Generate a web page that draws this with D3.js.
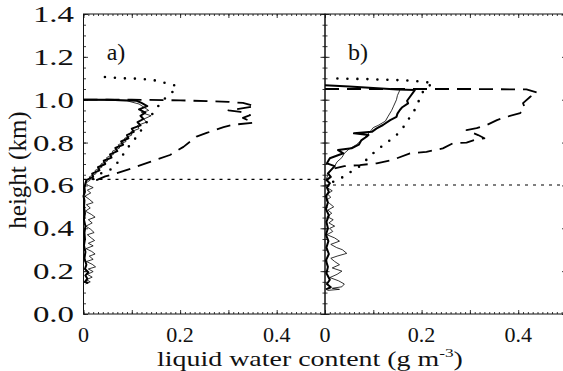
<!DOCTYPE html>
<html>
<head>
<meta charset="utf-8">
<script src="https://cdn.jsdelivr.net/npm/d3@7"></script>
<style>
  body { margin: 0; background: #fff; }
  svg { display: block; }
  text { font-family: "Liberation Serif", "Times New Roman", serif; fill: #111; }
</style>
</head>
<body>
<svg id="chart"></svg>
<script>
// tick values and labels
var yLabelTicks = [0, 0.2, 0.4, 0.6, 0.8, 1.0, 1.2, 1.4];
var yLabels = ['0.0', '0.2', '0.4', '0.6', '0.8', '1.0', '1.2', '1.4'];
var xLabelTicks = [0, 0.2, 0.4];
var xLabels = ['0', '0.2', '0.4'];
var panelNames = ['a)', 'b)'];

// panel a profiles: [lwc, height]
var aDotted = [[0.02,0.63],[0.03,0.65],[0.04,0.66],[0.062,0.68],[0.079,0.734],[0.096,0.789],[0.110,0.827],[0.127,0.882],[0.141,0.929],[0.158,0.98],[0.172,1.014],[0.183,1.033],[0.193,1.064],[0.172,1.077],[0.144,1.092],[0.117,1.098],[0.082,1.10],[0.048,1.105],[0.026,1.11]];
var aDashed = [[0.0,1.0],[0.1,1.0],[0.2,0.997],[0.3,0.99],[0.33,0.985],[0.355,0.97],[0.30,0.95],[0.325,0.943],[0.345,0.928],[0.33,0.915],[0.352,0.893],[0.31,0.883],[0.29,0.872],[0.255,0.845],[0.234,0.828],[0.207,0.78],[0.179,0.742],[0.138,0.71],[0.10,0.68],[0.069,0.657],[0.045,0.642],[0.027,0.625],[0.012,0.615]];
var aThick = [[0,1.0],[0.05,1.0],[0.11,0.995],[0.12,0.985],[0.132,0.97],[0.115,0.955],[0.128,0.94],[0.118,0.925],[0.124,0.91],[0.112,0.895],[0.118,0.88],[0.10,0.865],[0.104,0.85],[0.09,0.835],[0.093,0.82],[0.078,0.805],[0.082,0.79],[0.066,0.775],[0.07,0.76],[0.055,0.745],[0.058,0.73],[0.042,0.715],[0.045,0.70],[0.03,0.685],[0.033,0.67],[0.018,0.655],[0.02,0.64],[0.006,0.625],[0.004,0.61],[0.002,0.59],[0.003,0.57],[0.0,0.55],[0.002,0.53],[0.001,0.50],[0.003,0.47],[0.001,0.44],[0.004,0.41],[0.002,0.38],[0.003,0.35],[0.001,0.32],[0.004,0.29],[0.002,0.26],[0.006,0.23],[0.003,0.21],[0.01,0.195],[0.004,0.18],[0.008,0.165],[0.003,0.15],[0.01,0.145]];
var aThin = [[0.0,1.0],[0.09,0.995],[0.115,0.98],[0.125,0.965],[0.135,0.95],[0.12,0.94],[0.14,0.925],[0.125,0.91],[0.13,0.895],[0.112,0.88],[0.115,0.865],[0.098,0.85],[0.1,0.835],[0.085,0.82],[0.088,0.805],[0.072,0.79],[0.075,0.775],[0.06,0.76],[0.062,0.745],[0.048,0.73],[0.05,0.715],[0.036,0.70],[0.038,0.685],[0.024,0.67],[0.026,0.655],[0.012,0.64],[0.014,0.625],[0.004,0.61],[0.01,0.6],[0.02,0.59],[0.008,0.578],[0.015,0.565],[0.003,0.55],[0.012,0.535],[0.02,0.52],[0.006,0.51],[0.014,0.495],[0.004,0.48],[0.016,0.465],[0.024,0.452],[0.01,0.44],[0.018,0.425],[0.005,0.41],[0.015,0.395],[0.022,0.38],[0.008,0.37],[0.016,0.355],[0.023,0.343],[0.01,0.33],[0.02,0.318],[0.005,0.305],[0.017,0.292],[0.024,0.28],[0.012,0.27],[0.02,0.255],[0.006,0.245],[0.018,0.232],[0.025,0.22],[0.01,0.21],[0.02,0.198],[0.008,0.185],[0.018,0.172],[0.006,0.16],[0.014,0.15],[0.004,0.14]];
var aBase = 0.628;

// panel b profiles
var bDotted = [[0.017,0.617],[0.038,0.64],[0.059,0.672],[0.076,0.695],[0.089,0.728],[0.107,0.765],[0.135,0.812],[0.148,0.835],[0.166,0.882],[0.176,0.92],[0.19,0.967],[0.197,1.014],[0.207,1.053],[0.224,1.077],[0.203,1.084],[0.17,1.09],[0.13,1.093],[0.09,1.096],[0.05,1.098],[0.01,1.10]];
var bDashed = [[0.0,1.05],[0.1,1.05],[0.2,1.05],[0.3,1.05],[0.417,1.048],[0.44,1.033],[0.425,1.014],[0.41,0.984],[0.414,0.96],[0.404,0.937],[0.376,0.92],[0.356,0.905],[0.335,0.882],[0.314,0.867],[0.293,0.858],[0.317,0.835],[0.33,0.82],[0.31,0.812],[0.293,0.80],[0.265,0.797],[0.244,0.773],[0.21,0.757],[0.176,0.75],[0.141,0.72],[0.107,0.703],[0.072,0.695],[0.04,0.69],[0.02,0.68]];
var bThick = [[0,1.068],[0.05,1.062],[0.1,1.055],[0.15,1.048],[0.186,1.045],[0.176,1.014],[0.17,0.995],[0.172,0.983],[0.16,0.965],[0.155,0.952],[0.15,0.935],[0.148,0.92],[0.135,0.905],[0.12,0.882],[0.107,0.866],[0.097,0.85],[0.06,0.843],[0.09,0.835],[0.086,0.827],[0.075,0.81],[0.07,0.79],[0.055,0.773],[0.027,0.765],[0.038,0.75],[0.01,0.727],[0.004,0.703],[0.02,0.69],[0.006,0.656],[0.012,0.64],[0.003,0.625],[0.01,0.61],[0.004,0.59],[0.008,0.57],[0.002,0.55],[0.006,0.52],[0.002,0.49],[0.008,0.46],[0.003,0.43],[0.006,0.40],[0.002,0.37],[0.007,0.34],[0.003,0.31],[0.008,0.28],[0.002,0.25],[0.006,0.22],[0.003,0.19],[0.01,0.16],[0.004,0.14],[0.012,0.125],[0.002,0.115]];
var bThin = [[0.155,1.045],[0.15,1.02],[0.148,1.0],[0.142,0.97],[0.138,0.95],[0.13,0.92],[0.125,0.9],[0.11,0.88],[0.1,0.87],[0.093,0.85],[0.085,0.83],[0.075,0.81],[0.065,0.79],[0.05,0.77],[0.04,0.75],[0.035,0.73],[0.025,0.71],[0.02,0.69],[0.012,0.67],[0.006,0.65],[0.003,0.63],[0.01,0.61],[0.004,0.59],[0.015,0.575],[0.005,0.56],[0.012,0.545],[0.002,0.53],[0.01,0.515],[0.018,0.5],[0.006,0.485],[0.014,0.47],[0.004,0.455],[0.017,0.44],[0.008,0.425],[0.02,0.41],[0.01,0.40],[0.016,0.385],[0.004,0.37],[0.02,0.355],[0.03,0.34],[0.012,0.325],[0.024,0.31],[0.036,0.30],[0.045,0.283],[0.025,0.27],[0.012,0.26],[0.02,0.245],[0.03,0.23],[0.015,0.215],[0.035,0.20],[0.025,0.185],[0.01,0.17],[0.028,0.155],[0.04,0.14],[0.035,0.127],[0.015,0.12],[0.03,0.115],[0.005,0.11]];
var bBase = 0.602;

var width = 563, height = 371;
var svg = d3.select('#chart').attr('width', width).attr('height', height);

var y = d3.scaleLinear().domain([0, 1.4]).range([314, 14]);
var xa = d3.scaleLinear().domain([0, 0.5]).range([83.5, 325]);
var xb = d3.scaleLinear().domain([0, 0.5]).range([325, 566.5]);

var minorY = d3.range(0, 1.401, 0.05);
var minorX = d3.range(0, 0.501, 0.01);
var majorX = d3.range(0, 0.501, 0.1);

// text with horizontal stretch (the original font is wide)
function label(x, yy, str, size, sx, anchor, rot) {
  var t = svg.append('text')
    .attr('font-size', size)
    .attr('text-anchor', anchor || 'middle')
    .text(str);
  t.attr('transform', 'translate(' + x + ',' + yy + ')' + (rot ? ' rotate(' + rot + ')' : '') + ' scale(' + sx + ',1)');
  return t;
}

function ticks(axis, tx, ty, values, size) {
  svg.append('g')
    .attr('transform', 'translate(' + tx + ',' + ty + ')')
    .call(axis.tickValues(values).tickSize(size).tickSizeOuter(0).tickFormat(''))
    .call(function(g) {
      g.select('.domain').remove();
      g.selectAll('line').attr('stroke', '#222').attr('stroke-width', 0.9);
    });
}

function panel(x, base, lines) {
  var x0 = x.range()[0], x1 = x.range()[1];

  // ticks on all four sides, pointing inwards
  ticks(d3.axisRight(y), x0, 0, minorY, 2.5);
  ticks(d3.axisRight(y), x0, 0, yLabelTicks, 4.5);
  ticks(d3.axisLeft(y), x1, 0, minorY, 2.5);
  ticks(d3.axisLeft(y), x1, 0, yLabelTicks, 4.5);
  ticks(d3.axisBottom(x), 0, y(1.4), minorX, 2);
  ticks(d3.axisBottom(x), 0, y(1.4), majorX, 4);
  ticks(d3.axisTop(x), 0, y(0), minorX, 2);
  ticks(d3.axisTop(x), 0, y(0), majorX, 4);

  svg.append('rect')
    .attr('x', x0).attr('y', y(1.4))
    .attr('width', x1 - x0).attr('height', y(0) - y(1.4))
    .attr('fill', 'none').attr('stroke', '#111').attr('stroke-width', 1);

  // cloud base marker
  svg.append('line')
    .attr('x1', x0).attr('x2', x1)
    .attr('y1', y(base)).attr('y2', y(base))
    .attr('stroke', '#000').attr('stroke-width', 1.2)
    .attr('stroke-dasharray', '3,5');

  var line = d3.line().x(function(d) { return x(d[0]); }).y(function(d) { return y(d[1]); });

  lines.forEach(function(l) {
    svg.append('path')
      .datum(l.data)
      .attr('d', line)
      .attr('fill', 'none')
      .attr('stroke', '#000')
      .attr('stroke-width', l.w)
      .attr('stroke-linecap', l.cap || 'butt')
      .attr('stroke-linejoin', 'round')
      .attr('stroke-dasharray', l.dash || null);
  });

  xLabelTicks.forEach(function(v, i) {
    label(x(v), 342, xLabels[i], 21, 1.05);
  });
}

panel(xa, aBase, [
  { data: aDotted, w: 2.6, dash: '0,10', cap: 'round' },
  { data: aDashed, w: 1.8, dash: '14,8' },
  { data: aThin, w: 0.8 },
  { data: aThick, w: 2.0 }
]);
panel(xb, bBase, [
  { data: bDotted, w: 2.6, dash: '0,10', cap: 'round' },
  { data: bDashed, w: 1.8, dash: '14,8' },
  { data: bThin, w: 0.8 },
  { data: bThick, w: 2.0 }
]);

// y tick labels
yLabelTicks.forEach(function(v, i) {
  label(74, y(v) + 8, yLabels[i], 24, 1.37, 'end');
});

label(116, 60, panelNames[0], 24, 1.0);
label(358, 60, panelNames[1], 24, 1.0);

// axis titles
label(26, 170, 'height (km)', 25, 1.0, 'middle', -90);

var xt = svg.append('text')
  .attr('font-size', 21)
  .attr('text-anchor', 'middle');
xt.append('tspan').text('liquid water content (g m');
xt.append('tspan').attr('font-size', 13).attr('dy', -9).text('-3');
xt.append('tspan').attr('dy', 9).text(')');
var w = xt.node().getComputedTextLength();
xt.attr('transform', 'translate(310,366) scale(' + (306 / w) + ',1)');
</script>
</body>
</html>
